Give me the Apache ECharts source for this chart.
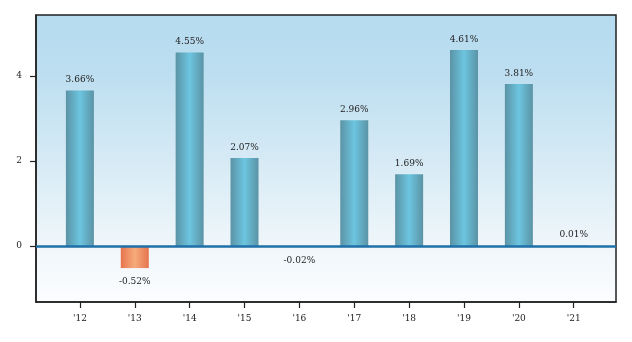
<!DOCTYPE html>
<html>
<head>
<meta charset="utf-8">
<script src="https://cdn.jsdelivr.net/npm/echarts@6/dist/echarts.min.js"></script>
<style>
  html, body { margin: 0; padding: 0; background: #fff; }
  #chart { width: 632px; height: 342px; }
</style>
</head>
<body>
<div id="chart"></div>
<script>
var years = ["'12", "'13", "'14", "'15", "'16", "'17", "'18", "'19", "'20", "'21"];
var growth = [3.66, -0.52, 4.55, 2.07, -0.02, 2.96, 1.69, 4.61, 3.81, 0.01];
var yTicks = [0, 2, 4];
var xTicks = [0, 1, 2, 3, 4, 5, 6, 7, 8, 9];

var myChart = echarts.init(document.getElementById('chart'));

var upColor = new echarts.graphic.LinearGradient(0, 0, 1, 0, [
    {offset: 0, color: '#5b93a5'},
    {offset: 0.5, color: '#6cc5e0'},
    {offset: 1, color: '#5b93a5'}
]);
var downColor = new echarts.graphic.LinearGradient(0, 0, 1, 0, [
    {offset: 0, color: '#e6744e'},
    {offset: 0.5, color: '#f6ab7c'},
    {offset: 1, color: '#e6744e'}
]);

var barData = growth.map(function (v, i) {
    return {
        value: [i, v],
        itemStyle: {color: v < 0 ? downColor : upColor},
        label: {position: v < 0 ? 'bottom' : 'top', distance: v < 0 ? 9 : 6}
    };
});

var font = 'DejaVu Serif';

myChart.setOption({
    animation: false,
    grid: {
        left: 36, right: 16, top: 15, bottom: 40,
        show: true,
        borderColor: '#222',
        borderWidth: 1.5,
        backgroundColor: new echarts.graphic.LinearGradient(0, 0, 0, 1, [
            {offset: 0, color: '#b6dbef'},
            {offset: 0.2, color: '#bcdef0'},
            {offset: 0.8, color: '#eff6fa'},
            {offset: 1, color: '#fcfdff'}
        ])
    },
    xAxis: {
        type: 'value',
        min: -0.8,
        max: 9.77,
        splitLine: {show: false},
        axisLine: {show: true, onZero: false, lineStyle: {color: '#222', width: 1.5}},
        axisTick: {show: true, length: 6, lineStyle: {color: '#222', width: 1.2}, customValues: xTicks},
        axisLabel: {
            customValues: xTicks,
            formatter: function (v) { return years[Math.round(v)]; },
            fontFamily: font, fontSize: 9, color: '#222', margin: 12
        }
    },
    yAxis: {
        type: 'value',
        min: -1.318,
        max: 5.435,
        splitLine: {show: false},
        axisLine: {show: true, onZero: false, lineStyle: {color: '#222', width: 1.5}},
        axisTick: {show: true, length: 6, lineStyle: {color: '#222', width: 1.2}, customValues: yTicks},
        axisLabel: {
            customValues: yTicks,
            fontFamily: font, fontSize: 9, color: '#222', margin: 14
        }
    },
    series: [{
        type: 'bar',
        barWidth: 28,
        data: barData,
        label: {
            show: true,
            fontFamily: font,
            fontSize: 9,
            color: '#222',
            formatter: function (p) { return p.value[1].toFixed(2) + '%'; }
        },
        markLine: {
            silent: true,
            symbol: 'none',
            label: {show: false},
            lineStyle: {color: '#1f6fa8', width: 2.5, type: 'solid'},
            data: [{yAxis: 0}]
        }
    }]
});
</script>
</body>
</html>
